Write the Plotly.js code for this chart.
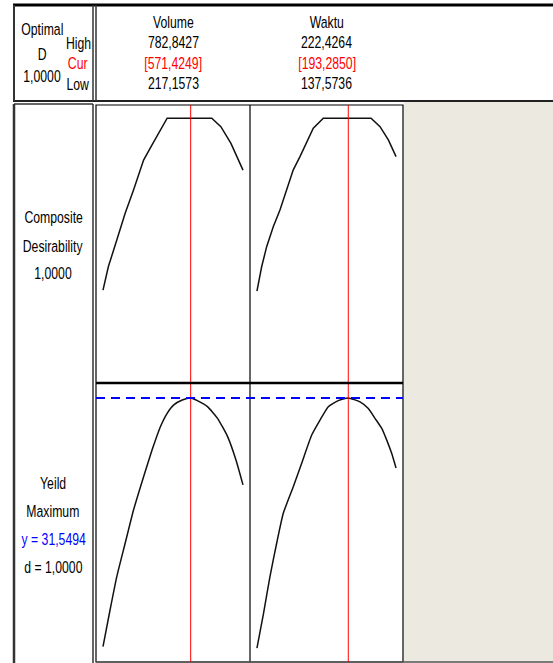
<!DOCTYPE html>
<html>
<head>
<meta charset="utf-8">
<script src="https://cdn.plot.ly/plotly-3.0.1.min.js"></script>
<style>
html,body{margin:0;padding:0;background:#fff;}
#chart{width:553px;height:663px;}
#chart .annotation-text{transform-box:fill-box;transform-origin:50% 50%;transform:scaleX(0.72);}
</style>
</head>
<body>
<div id="chart"></div>
<script>
// ---- data ----
const factorNames = ["Volume", "Waktu"];
const volLow = 217.1573, volHigh = 782.8427, volCur = 571.4249;
const wakLow = 137.5736, wakHigh = 222.4264, wakCur = 193.2850;
const optimalD = 1.0;
const responseName = "Yeild";
const goalName = "Maximum";
const yOpt = 31.5494;
const dResp = 1.0;

// composite desirability vs Volume
const volX_d = [217.16, 238.7, 272.9, 306.7, 340.5, 381.2, 415.3, 442.2, 476.4, 656.7, 693.4, 734.1, 754.4, 782.84];
const vol_d  = [0.351, 0.439, 0.540, 0.641, 0.729, 0.842, 0.899, 0.943, 1.0, 1.0, 0.968, 0.905, 0.861, 0.804];
// Yield vs Volume
const volX_y = [217.16, 245.6, 272.9, 306.7, 340.5, 381.2, 415.3, 449.1, 476.4, 503.3, 537.5, 571.42, 598.5, 639.2, 679.9, 720.6, 754.4, 782.84];
const vol_y  = [15.79, 18.11, 20.23, 22.34, 24.45, 26.56, 28.25, 29.73, 30.58, 31.11, 31.42, 31.5494, 31.38, 31.00, 30.26, 29.10, 27.62, 26.04];
// composite desirability vs Waktu
const wakX_d = [137.57, 140.44, 143.49, 147.52, 151.61, 155.70, 159.73, 163.82, 167.91, 171.94, 178.05, 207.17, 212.66, 217.73, 222.43];
const wak_d  = [0.347, 0.439, 0.515, 0.590, 0.653, 0.729, 0.805, 0.855, 0.911, 0.962, 1.0, 1.0, 0.968, 0.918, 0.855];
// Yield vs Waktu
const wakX_y = [137.57, 141.59, 145.51, 149.60, 153.63, 159.73, 164.86, 170.97, 176.04, 181.10, 187.21, 193.285, 200.44, 205.51, 209.60, 213.70, 216.75, 219.80, 222.43];
const wak_y  = [15.69, 17.90, 20.23, 22.34, 24.24, 25.93, 27.41, 29.20, 30.15, 31.00, 31.38, 31.5494, 31.30, 30.88, 30.26, 29.62, 28.88, 28.03, 27.11];

// ---- layout helpers ----
const W = 553, H = 663;
const X = p => p / W;
const Y = p => 1 - p / H;
const fmt = v => v.toFixed(4).replace('.', ',');
const FONT = "'Liberation Sans', Arial, sans-serif";

const volPad = 0.05 * (volHigh - volLow);
const wakPad = 0.05 * (wakHigh - wakLow);

const lineStyle = {color: '#111', width: 1.5};
const splineStyle = {color: '#111', width: 1.5, shape: 'spline', smoothing: 0.5};
const traces = [
  {x: volX_d, y: vol_d, xaxis: 'x', yaxis: 'y', mode: 'lines', line: lineStyle, hoverinfo: 'skip'},
  {x: wakX_d, y: wak_d, xaxis: 'x2', yaxis: 'y', mode: 'lines', line: lineStyle, hoverinfo: 'skip'},
  {x: volX_y, y: vol_y, xaxis: 'x', yaxis: 'y2', mode: 'lines', line: splineStyle, hoverinfo: 'skip'},
  {x: wakX_y, y: wak_y, xaxis: 'x2', yaxis: 'y2', mode: 'lines', line: splineStyle, hoverinfo: 'skip'}
];

const hid = {showgrid: false, zeroline: false, showticklabels: false, showline: false, ticks: '', fixedrange: true};

function hline(x0, x1, y, w, c) {
  return {type: 'line', xref: 'paper', yref: 'paper', x0: X(x0), x1: X(x1), y0: Y(y), y1: Y(y), line: {color: c || '#000', width: w}};
}
function vline(x, y0, y1, w, c) {
  return {type: 'line', xref: 'paper', yref: 'paper', x0: X(x), x1: X(x), y0: Y(y0), y1: Y(y1), line: {color: c || '#000', width: w}};
}

const shapes = [
  {type: 'rect', xref: 'paper', yref: 'paper', x0: X(404), x1: 1, y0: 0, y1: Y(102), fillcolor: '#ECE9E1', line: {width: 0}, layer: 'below'},
  hline(13, 553, 5, 3, '#000'),
  hline(13, 553, 101, 2, '#222'),
  vline(14, 5, 101, 2, '#333'),
  vline(93, 5, 101, 1.5, '#333'),
  vline(96, 5, 101, 1.5, '#333'),
  hline(14, 93, 104, 1.5, '#333'),
  vline(14, 104, 663, 2.5, '#333'),
  vline(93, 104, 663, 1.5, '#333'),
  {type: 'rect', xref: 'paper', yref: 'paper', x0: X(96), x1: X(403), y0: Y(662), y1: Y(105), line: {color: '#000', width: 1.2}},
  vline(250, 105, 662, 1.2, '#000'),
  hline(96, 553, 662, 1.5, '#555'),
  // current settings
  {type: 'line', xref: 'x', yref: 'paper', x0: volCur, x1: volCur, y0: Y(662), y1: Y(105), line: {color: '#FF0000', width: 1}},
  {type: 'line', xref: 'x2', yref: 'paper', x0: wakCur, x1: wakCur, y0: Y(662), y1: Y(105), line: {color: '#FF0000', width: 1}},
  // optimum response
  {type: 'line', xref: 'paper', yref: 'y2', x0: X(96), x1: X(403), y0: yOpt, y1: yOpt, line: {color: '#0000FF', width: 2, dash: '9px,6px'}},
  hline(96, 403, 383, 2.5, '#000')
];

function ann(text, x, y, color, xref) {
  return {text: text, xref: xref || 'paper', yref: 'paper', x: x, y: Y(y), showarrow: false,
          xanchor: 'center', yanchor: 'middle', font: {family: FONT, size: 17, color: color || '#000'}};
}

const annotations = [
  ann('Optimal', X(42), 30),
  ann('D', X(42), 54),
  ann(fmt(optimalD), X(42), 76),
  ann('High', X(78), 44),
  ann('Cur', X(78), 64, '#FF0000'),
  ann('Low', X(78), 84),
  ann(factorNames[0], 0.5, 23, null, 'x domain'),
  ann(fmt(volHigh), 0.5, 43, null, 'x domain'),
  ann('[' + fmt(volCur) + ']', 0.5, 63, '#FF0000', 'x domain'),
  ann(fmt(volLow), 0.5, 83, null, 'x domain'),
  ann(factorNames[1], 0.5, 23, null, 'x2 domain'),
  ann(fmt(wakHigh), 0.5, 43, null, 'x2 domain'),
  ann('[' + fmt(wakCur) + ']', 0.5, 63, '#FF0000', 'x2 domain'),
  ann(fmt(wakLow), 0.5, 83, null, 'x2 domain'),
  ann('Composite', X(53), 218),
  ann('Desirability', X(53), 246),
  ann(fmt(optimalD), X(53), 273),
  ann(responseName, X(53), 483),
  ann(goalName, X(53), 511),
  ann('y = ' + fmt(yOpt), X(53), 539, '#0000FF'),
  ann('d = ' + fmt(dResp), X(53), 567)
];

const layout = {
  width: W, height: H,
  margin: {l: 0, r: 0, t: 0, b: 0, pad: 0},
  paper_bgcolor: '#FFFFFF', plot_bgcolor: 'rgba(0,0,0,0)',
  showlegend: false,
  xaxis: Object.assign({domain: [X(96), X(250)], range: [volLow - volPad, volHigh + volPad], anchor: 'y2'}, hid),
  xaxis2: Object.assign({domain: [X(250), X(403)], range: [wakLow - wakPad, wakHigh + wakPad], anchor: 'y2'}, hid),
  yaxis: Object.assign({domain: [Y(383), Y(105)], range: [0, 1.05], anchor: 'x'}, hid),
  yaxis2: Object.assign({domain: [0, Y(383)], range: [14.75, 32.5], anchor: 'x'}, hid),
  shapes: shapes,
  annotations: annotations
};

Plotly.newPlot('chart', traces, layout, {staticPlot: true, displayModeBar: false});
</script>
</body>
</html>
